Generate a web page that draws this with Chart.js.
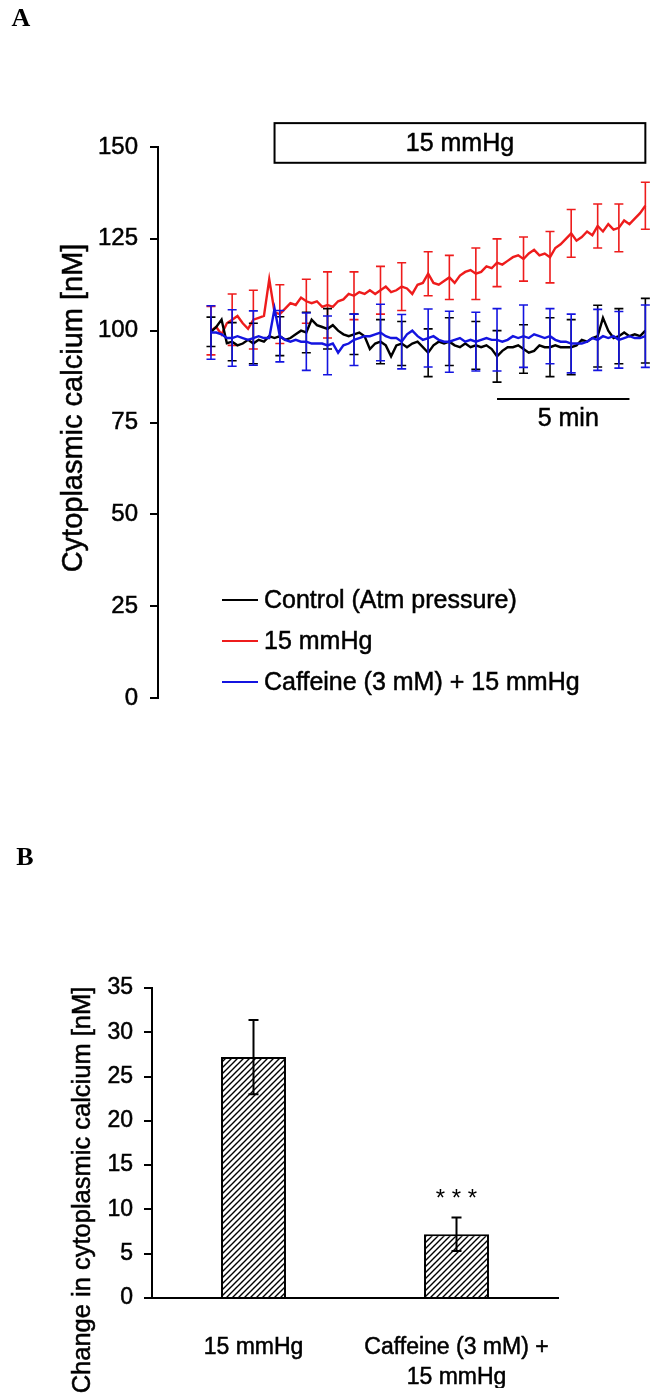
<!DOCTYPE html>
<html>
<head>
<meta charset="utf-8">
<script src="https://cdn.jsdelivr.net/npm/chart.js@4.4.1/dist/chart.umd.min.js"></script>
<style>
  body { margin: 0; background: #fff; }
  #wrap { position: relative; width: 657px; height: 1395px; }
  canvas { position: absolute; left: 0; }
  #traceChart { top: 0; }
  #barChart { top: 780px; }
</style>
</head>
<body>
<div id="wrap">
  <canvas id="traceChart" width="657" height="760"></canvas>
  <canvas id="barChart" width="657" height="615"></canvas>
</div>
<script>
// panel A: cytoplasmic calcium traces, one sample every 0.2 min
const SAMPLE_MIN = 0.2;
const control = [
  99.7, 101, 103, 96.6, 97, 96, 96.5, 97.5, 96.5, 97.5,
  97, 98.5, 98, 98.5, 97.5, 98, 99, 100, 99.5, 103,
  101.5, 101, 100.5, 101.5, 100, 99, 98.5, 99, 99.5, 98.5,
  95, 96.5, 97, 96, 93, 96, 96.5, 95.5, 96.5, 97,
  95.5, 94, 96, 97, 96.5, 97, 96, 95.5, 96.5, 95.5,
  96, 95.5, 96, 95, 93, 94.5, 95.5, 95.5, 96, 95,
  94, 94.5, 96, 95.5, 95.5, 96, 95.5, 95.5, 95.5, 96,
  97.5, 97, 98, 98.5, 103.5, 100, 98, 98.5, 99.5, 98.5,
  99, 98.5, 100
];
const pressure = [
  100, 101, 99, 102, 103, 104, 102, 100.5, 103, 103.5,
  104, 114, 105, 104.5, 106, 107.5, 107, 109, 108, 107.5,
  108, 106.5, 107, 106.5, 108, 108.5, 110, 109.5, 110.5, 110,
  111, 110, 111, 112, 110.5, 111, 112, 111.5, 110, 112.5,
  113, 115.5, 113, 112.5, 113.5, 114.5, 113, 115, 116, 116.5,
  115.5, 116, 117.5, 117, 118.5, 118, 119, 120, 120.5, 119.5,
  121, 122, 120.5, 121, 120, 122.5, 123.5, 125, 126.5, 124.5,
  125.5, 127, 126, 128.5, 127, 129, 127.5, 128, 130, 129,
  130.5, 132, 134
];
const caffeine = [
  99.5, 99.5, 99, 98, 98, 98.5, 98, 97.5, 98, 98.5,
  98, 98, 106, 98.5, 97.5, 97, 97.5, 97, 97, 96.5,
  96.5, 96.5, 96, 96.5, 94, 96, 96.5, 97.5, 98, 98.5,
  98.5, 99, 99.5, 98.5, 98, 98, 97, 99, 100, 98.5,
  97.5, 98, 98.5, 97.5, 97, 97, 97.5, 98, 97, 97.5,
  97, 97.5, 98, 97.5, 97.5, 97, 97.5, 98.5, 98, 98.5,
  98, 99, 98.5, 98, 98.5, 97.5, 97, 97, 96.5, 96.5,
  96.5, 97, 98, 97.5, 98.5, 98, 98.5, 97.5, 98, 98.5,
  98, 98, 98.5
];
const times = control.map((_, i) => +(i * SAMPLE_MIN).toFixed(1));

// SD error bars, drawn at these times
const errTimes = [0, 0.8, 1.6, 2.6, 3.6, 4.4, 5.4, 6.4, 7.2, 8.2, 9.0, 10.0, 10.8, 11.8, 12.8, 13.6, 14.6, 15.4, 16.4];
const controlSd = [4, 5.2, 5.5, 5.3, 5.5, 5.5, 5.5, 6, 6, 6.5, 6.5, 6.5, 7, 6.6, 8, 7.5, 8.4, 7.5, 8.8];
const pressureSd = [6.6, 7, 8, 8, 6, 9, 6.5, 6.5, 6.5, 6, 6, 7, 6.5, 6, 7, 6.5, 6, 6.5, 6.4];
const caffeineSd = [7.3, 7.7, 7.4, 7, 7.8, 8, 7, 7.7, 7.4, 7.9, 8.3, 8, 8.5, 8.5, 7.5, 8, 8.3, 7.7, 8.5];

const seriesNames = ['Control (Atm pressure)', '15 mmHg', 'Caffeine (3 mM) + 15 mmHg'];

// panel B: mean change ± SEM
const barLabels = ['15 mmHg', ['Caffeine (3 mM) +', '15 mmHg']];
const barMeans = [27.2, 7.2];
const barErr = [4.2, 1.9];

// annotations on panel A (minutes / nM)
const pressureOn = [2.4, 16.4];
const pressureBoxY = [145.7, 156.5];
const scaleBarMin = [10.8, 15.8];
const scaleBarY = 81.4;

const FONT = "'Liberation Sans', Arial, sans-serif";
Chart.defaults.font.family = FONT;
Chart.defaults.color = '#000';

const RED = '#ee1c1c';
const BLUE = '#1414e0';

// text a little heavier, like the printed figure
function inkText(ctx, str, x, y) {
  ctx.lineWidth = 0.5;
  ctx.strokeStyle = '#000';
  ctx.strokeText(str, x, y);
  ctx.fillText(str, x, y);
}

const traceErrors = {
  id: 'traceErrors',
  afterDatasetDraw(chart, args) {
    const ds = chart.data.datasets[args.index];
    if (!ds.sd) return;
    const {ctx, scales: {x, y}} = chart;
    ctx.save();
    ctx.strokeStyle = ds.borderColor;
    ctx.lineWidth = 1.6;
    errTimes.forEach((t, j) => {
      const k = Math.round(t / SAMPLE_MIN);
      const px = x.getPixelForValue(t);
      const top = y.getPixelForValue(ds.data[k] + ds.sd[j]);
      const bot = y.getPixelForValue(ds.data[k] - ds.sd[j]);
      ctx.beginPath();
      ctx.moveTo(px, top); ctx.lineTo(px, bot);
      ctx.moveTo(px - 4.5, top); ctx.lineTo(px + 4.5, top);
      ctx.moveTo(px - 4.5, bot); ctx.lineTo(px + 4.5, bot);
      ctx.stroke();
    });
    ctx.restore();
  }
};

const traceExtras = {
  id: 'traceExtras',
  afterDraw(chart) {
    const {ctx, scales: {x, y}} = chart;
    ctx.save();
    // pressure period box
    const bx0 = x.getPixelForValue(pressureOn[0]);
    const bx1 = x.getPixelForValue(pressureOn[1]);
    const by0 = y.getPixelForValue(pressureBoxY[1]);
    const by1 = y.getPixelForValue(pressureBoxY[0]);
    ctx.strokeStyle = '#000';
    ctx.lineWidth = 2;
    ctx.strokeRect(bx0, by0, bx1 - bx0, by1 - by0);
    ctx.fillStyle = '#000';
    ctx.font = '25px ' + FONT;
    ctx.textAlign = 'center';
    ctx.textBaseline = 'middle';
    inkText(ctx, '15 mmHg', (bx0 + bx1) / 2, (by0 + by1) / 2 + 1);

    // time scale bar
    const sx0 = x.getPixelForValue(scaleBarMin[0]);
    const sx1 = x.getPixelForValue(scaleBarMin[1]);
    const sy = y.getPixelForValue(scaleBarY);
    ctx.lineWidth = 2;
    ctx.beginPath();
    ctx.moveTo(sx0, sy); ctx.lineTo(sx1, sy);
    ctx.stroke();
    inkText(ctx, '5 min', (sx0 + sx1) / 2 + 5, sy + 20);

    // legend
    ctx.textAlign = 'left';
    chart.data.datasets.forEach((ds, i) => {
      const ly = 600 + i * 41;
      ctx.strokeStyle = ds.borderColor;
      ctx.lineWidth = 2;
      ctx.beginPath();
      ctx.moveTo(222, ly); ctx.lineTo(258, ly);
      ctx.stroke();
      inkText(ctx, ds.label, 264, ly + 1);
    });

    // y axis title
    ctx.translate(74, 408);
    ctx.rotate(-Math.PI / 2);
    ctx.textAlign = 'center';
    ctx.font = '29px ' + FONT;
    inkText(ctx, 'Cytoplasmic calcium [nM]', 0, 0);
    ctx.restore();

    ctx.save();
    ctx.font = 'bold 26px "Liberation Serif", "Times New Roman", serif';
    ctx.textBaseline = 'middle';
    ctx.textAlign = 'center';
    ctx.fillText('A', 21, 19);
    ctx.restore();
  }
};

const tickInk = {textStrokeColor: '#000', textStrokeWidth: 0.5};

new Chart(document.getElementById('traceChart'), {
  type: 'line',
  data: {
    labels: times,
    datasets: [
      {label: seriesNames[0], data: control, sd: controlSd, borderColor: '#000', order: 1},
      {label: seriesNames[1], data: pressure, sd: pressureSd, borderColor: RED, order: 2},
      {label: seriesNames[2], data: caffeine, sd: caffeineSd, borderColor: BLUE, order: 0}
    ]
  },
  options: {
    responsive: false,
    animation: false,
    layout: {padding: {top: 147, right: 9, bottom: 62, left: 0}},
    elements: {point: {radius: 0}, line: {borderWidth: 2.4, tension: 0}},
    plugins: {legend: {display: false}, tooltip: {enabled: false}},
    scales: {
      x: {type: 'linear', display: false, min: -2, max: 16.5},
      y: {
        min: 0, max: 150,
        ticks: {stepSize: 25, padding: 12, font: {size: 24}, ...tickInk},
        grid: {drawOnChartArea: false, color: '#000', lineWidth: 2, tickLength: 8},
        border: {color: '#000', width: 2},
        afterFit(s) { s.width = 158; }
      }
    }
  },
  plugins: [traceErrors, traceExtras]
});

// diagonal hatch fill for the bars
function hatchPattern() {
  const c = document.createElement('canvas');
  c.width = 6; c.height = 6;
  const g = c.getContext('2d');
  g.fillStyle = '#fff';
  g.fillRect(0, 0, 6, 6);
  g.strokeStyle = '#000';
  g.lineWidth = 1.4;
  g.beginPath();
  g.moveTo(-1, 7); g.lineTo(7, -1);
  g.moveTo(-1, 1); g.lineTo(1, -1);
  g.moveTo(5, 7); g.lineTo(7, 5);
  g.stroke();
  return g.createPattern(c, 'repeat');
}

const barExtras = {
  id: 'barExtras',
  afterDatasetsDraw(chart) {
    const {ctx, scales: {y}} = chart;
    const meta = chart.getDatasetMeta(0);
    ctx.save();
    ctx.strokeStyle = '#000';
    ctx.lineWidth = 2;
    meta.data.forEach((bar, i) => {
      const top = y.getPixelForValue(barMeans[i] + barErr[i]);
      const bot = y.getPixelForValue(barMeans[i] - barErr[i]);
      ctx.beginPath();
      ctx.moveTo(bar.x, top); ctx.lineTo(bar.x, bot);
      ctx.moveTo(bar.x - 5, top); ctx.lineTo(bar.x + 5, top);
      ctx.moveTo(bar.x - 5, bot); ctx.lineTo(bar.x + 5, bot);
      ctx.stroke();
    });
    // significance marker over the caffeine bar
    const b = meta.data[1];
    ctx.fillStyle = '#000';
    ctx.font = '24px ' + FONT;
    ctx.textAlign = 'center';
    ctx.textBaseline = 'middle';
    ctx.fillText('* * *', b.x, y.getPixelForValue(barMeans[1] + barErr[1]) - 18);

    // y axis title
    ctx.translate(83, 410);
    ctx.rotate(-Math.PI / 2);
    ctx.font = '25.5px ' + FONT;
    inkText(ctx, 'Change in cytoplasmic calcium [nM]', 0, 0);
    ctx.restore();

    ctx.save();
    ctx.font = 'bold 26px "Liberation Serif", "Times New Roman", serif';
    ctx.textBaseline = 'middle';
    ctx.textAlign = 'center';
    ctx.fillText('B', 25, 78);
    ctx.restore();
  }
};

new Chart(document.getElementById('barChart'), {
  type: 'bar',
  data: {
    labels: barLabels,
    datasets: [{
      data: barMeans,
      backgroundColor: hatchPattern(),
      borderColor: '#000',
      borderWidth: 2,
      barPercentage: 0.32,
      categoryPercentage: 1
    }]
  },
  options: {
    responsive: false,
    animation: false,
    layout: {padding: {top: 208, right: 99, bottom: 7, left: 0}},
    plugins: {legend: {display: false}, tooltip: {enabled: false}},
    scales: {
      x: {
        grid: {display: false},
        border: {color: '#000', width: 2},
        ticks: {padding: 27, maxRotation: 0, autoSkip: false, font: {size: 23, lineHeight: 1.3}, ...tickInk},
        afterFit(s) { s.height = 90; }
      },
      y: {
        min: 0, max: 35,
        ticks: {stepSize: 5, padding: 11, font: {size: 23}, ...tickInk},
        grid: {drawOnChartArea: false, color: '#000', lineWidth: 2, tickLength: 8},
        border: {color: '#000', width: 2},
        afterFit(s) { s.width = 152; }
      }
    }
  },
  plugins: [barExtras]
});
</script>
</body>
</html>
